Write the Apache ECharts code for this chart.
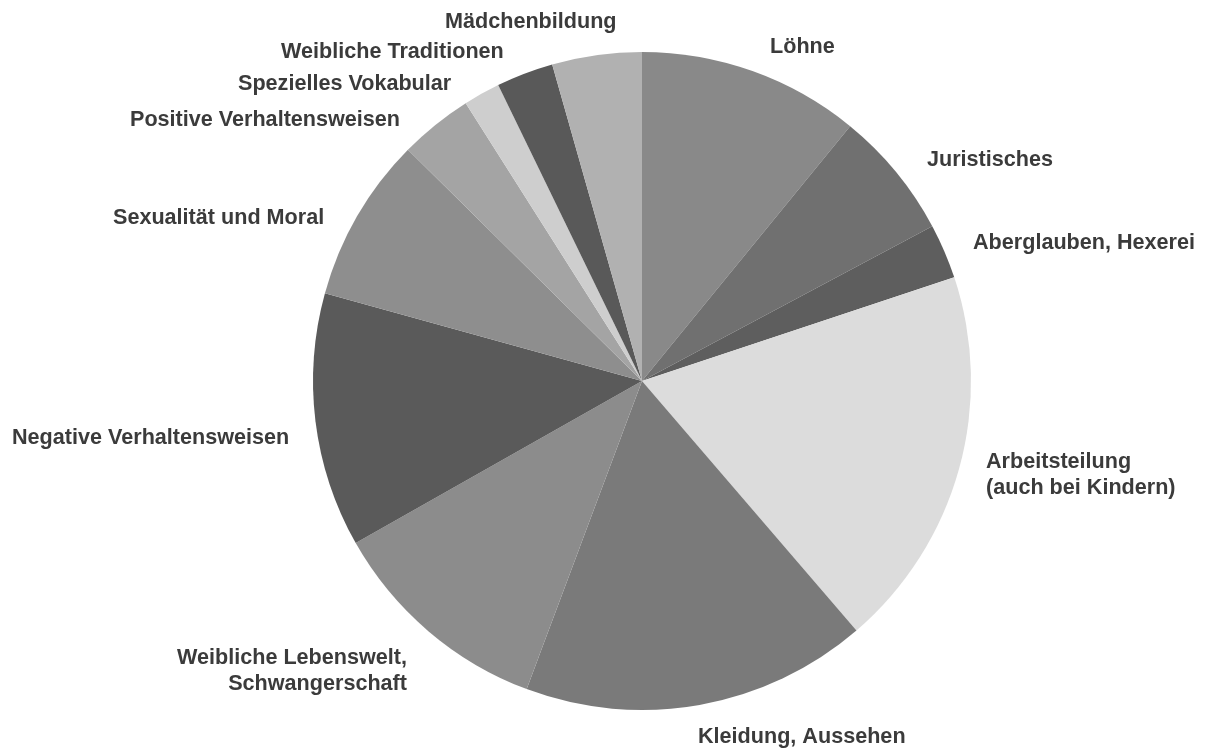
<!DOCTYPE html>
<html style="height: 100%" lang="de">
<head>
    <meta charset="utf-8">
    <script type="text/javascript" src="https://cdn.jsdelivr.net/npm/echarts@6/dist/echarts.min.js"></script>
    <title>Themen</title>
</head>
<body style="height: 100%; margin: 0; background: #fff">
<div id="container" style="width: 1205px; height: 749px"></div>
</body>
<script type="text/javascript">
    // Anteile in Prozent, im Uhrzeigersinn ab 12 Uhr
    let categories = [
        'Löhne',
        'Juristisches',
        'Aberglauben, Hexerei',
        'Arbeitsteilung\n(auch bei Kindern)',
        'Kleidung, Aussehen',
        'Weibliche Lebenswelt,\nSchwangerschaft',
        'Negative Verhaltensweisen',
        'Sexualität und Moral',
        'Positive Verhaltensweisen',
        'Spezielles Vokabular',
        'Weibliche Traditionen',
        'Mädchenbildung'
    ];
    let shares = [10.9, 6.3, 2.7, 18.8, 17.0, 11.1, 12.5, 8.1, 3.6, 1.8, 2.8, 4.4];
    let greys = ['#898989', '#707070', '#5e5e5e', '#dcdcdc', '#7a7a7a', '#8c8c8c',
                 '#5a5a5a', '#8e8e8e', '#a4a4a4', '#cecece', '#595959', '#b1b1b1'];

    // Lage der Beschriftungen: [x, y, Ausrichtung]
    let labelSpots = [
        [770, 47, 'left'],
        [927, 160, 'left'],
        [973, 243, 'left'],
        [986, 475, 'left'],
        [698, 737, 'left'],
        [407, 671, 'right'],
        [12, 438, 'left'],
        [113, 218, 'left'],
        [130, 120, 'left'],
        [238, 84, 'left'],
        [281, 52, 'left'],
        [445, 22, 'left']
    ];

    let dom = document.getElementById("container");
    let myChart = echarts.init(dom);
    let option;

    let data = categories.map(function (name, i) {
        return {
            name: name,
            value: shares[i],
            itemStyle: {color: greys[i]},
            label: {align: labelSpots[i][2]}
        };
    });

    option = {
        backgroundColor: '#ffffff',
        animation: false,
        series: {
            type: 'pie',
            center: [642, 381],
            radius: [0, 329],
            startAngle: 90,
            clockwise: true,
            sort: undefined,
            avoidLabelOverlap: false,
            data: data,
            itemStyle: {borderWidth: 0},
            emphasis: {disabled: true},
            label: {
                position: 'outside',
                formatter: '{b}',
                fontFamily: 'Liberation Sans',
                fontWeight: 'bold',
                fontSize: 21.6,
                lineHeight: 26,
                color: '#3b3b3b'
            },
            labelLine: {show: false},
            labelLayout: function (params) {
                let s = labelSpots[params.dataIndex];
                return {
                    x: s[0],
                    y: s[1],
                    align: s[2],
                    verticalAlign: 'middle'
                };
            }
        }
    };
    if (option && typeof option === 'object') {
        myChart.setOption(option);
    }
</script>
</html>
